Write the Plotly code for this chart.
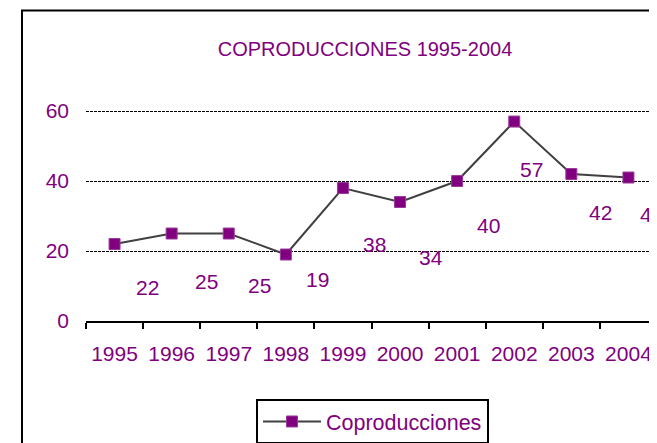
import plotly.graph_objects as go

years = ["1995", "1996", "1997", "1998", "1999", "2000", "2001", "2002", "2003", "2004"]
coproducciones = [22, 25, 25, 19, 38, 34, 40, 57, 42, 41]
y_ticks = [0, 20, 40, 60]

# label offsets in pixels (style: Excel placed labels below/right of points)
label_dx = [33, 35, 31, 32, 32, 31, 31, 17, 29, 23]
label_dy = [43, 48, 52, 25, 56, 55, 44, 48, 38, 37]

PURPLE = "#800080"
FONT = "Arial, Liberation Sans, sans-serif"

fig = go.Figure()
fig.add_trace(go.Scatter(
    x=years, y=coproducciones, mode="lines+markers", name="Coproducciones",
    line=dict(color="#404040", width=2),
    marker=dict(symbol="square", size=11, color=PURPLE, line=dict(color="#9a3c9a", width=1)),
    cliponaxis=False,
))

annotations = []
for i, (v, dx, dy) in enumerate(zip(coproducciones, label_dx, label_dy)):
    annotations.append(dict(xref="x", yref="y", x=i, y=v, text=str(v), showarrow=False,
                            xshift=dx, yshift=-dy, xanchor="center", yanchor="middle",
                            font=dict(family=FONT, size=21, color=PURPLE)))

# page body has an 8px margin: figure is laid out relative to that offset
OFF = 8
W, H = 657 - OFF, 443 - OFF
L, R, T, B = 86 - OFF, 0, 110 - OFF, 443 - 321
pw, ph = W - L - R, H - T - B

def px_x(px):
    return (px - OFF - L) / pw

def px_y(py):
    return (H - B - (py - OFF)) / ph

shapes = [dict(type="rect", xref="paper", yref="paper",
               x0=px_x(22), x1=px_x(700), y0=px_y(480), y1=px_y(10.5),
               line=dict(color="black", width=2), fillcolor="rgba(0,0,0,0)", layer="below")]

fig.update_layout(
    width=W, height=H,
    annotations=annotations, shapes=shapes,
    margin=dict(l=L, r=R, t=T, b=B, pad=0, autoexpand=False),
    plot_bgcolor="white", paper_bgcolor="white",
    font=dict(family=FONT, size=21, color=PURPLE),
    title=dict(text="COPRODUCCIONES 1995-2004", x=(365 - OFF) / W, xref="container",
               xanchor="center", y=1 - (49 - OFF) / H, yref="container", yanchor="middle",
               font=dict(family=FONT, size=20, color=PURPLE)),
    showlegend=True,
    legend=dict(xref="container", yref="container", x=(256 - OFF) / W, y=1 - (399 - OFF) / H,
                xanchor="left", yanchor="top", bordercolor="black", borderwidth=2,
                bgcolor="white", font=dict(family=FONT, size=21.5, color=PURPLE),
                itemwidth=58),
    xaxis=dict(type="category", tickson="boundaries", ticks="outside", ticklen=6,
               tickwidth=2, tickcolor="black", showline=True, linecolor="black", linewidth=2,
               showgrid=False, ticklabelstandoff=13, range=[-0.5, 9.5], tickangle=0,
               automargin=False,
               tickfont=dict(family=FONT, size=21, color=PURPLE)),
    yaxis=dict(range=[0, 60.3], tickvals=y_ticks, showline=False, zeroline=False,
               showgrid=True, gridcolor="black", gridwidth=1, griddash="3px,1px",
               ticks="", ticklabelstandoff=16, automargin=False,
               tickfont=dict(family=FONT, size=21, color=PURPLE)),
)

fig.write_html("out.html")
